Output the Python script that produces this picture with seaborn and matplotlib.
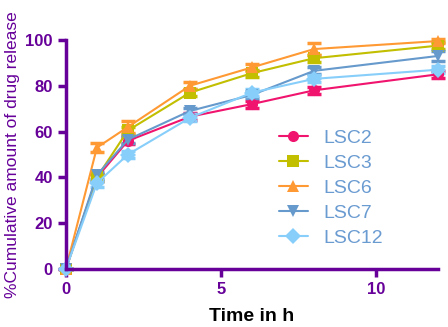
import matplotlib
matplotlib.use("Agg")
import matplotlib.pyplot as plt
import seaborn as sns
import pandas as pd
import numpy as np

time_h = [0, 1, 2, 4, 6, 8, 12]
lsc2 = [0, 40, 56, 66.5, 72, 78, 85]
lsc3 = [0, 40, 60.5, 77, 85.5, 92, 97.5]
lsc6 = [0, 53, 62, 80, 88, 96, 99.5]
lsc7 = [0, 41, 56.5, 69, 76, 86.5, 93]
lsc12 = [0, 37.5, 50, 66, 77, 83, 87]
sd2 = [0, 1.5, 1.5, 1.5, 1.5, 1.5, 1.5]
sd3 = [0, 1.5, 1.5, 1.5, 1.5, 1.5, 1.5]
sd6 = [0, 2.0, 2.5, 1.5, 1.5, 2.5, 1.0]
sd7 = [0, 1.5, 1.5, 1.5, 1.5, 1.5, 2.0]
sd12 = [0, 1.5, 1.5, 1.5, 1.5, 1.5, 1.5]

names = ["LSC2", "LSC3", "LSC6", "LSC7", "LSC12"]
series = [lsc2, lsc3, lsc6, lsc7, lsc12]
errs = [sd2, sd3, sd6, sd7, sd12]
colors = ["#F0146E", "#C2BE00", "#FF9933", "#6699CC", "#87CEFA"]
markers = ["o", "s", "^", "v", "D"]

rows = []
for n, s in zip(names, series):
    for t, v in zip(time_h, s):
        rows.append({"Time": t, "Release": v, "Formulation": n})
df = pd.DataFrame(rows)

sns.set_style("white")
plt.rcParams['font.family'] = ['Liberation Sans', 'DejaVu Sans']
purple = "#660099"

fig = plt.figure(figsize=(4.48, 3.27), dpi=100)
ax = fig.add_axes([0.147, 0.177, 0.831, 0.701])

for n, s, e, c, m in zip(names, series, errs, colors, markers):
    ax.errorbar(time_h, s, yerr=e, fmt="none", ecolor=c, elinewidth=1.5,
                capsize=5, capthick=2.5, clip_on=False, zorder=2)

sns.lineplot(data=df, x="Time", y="Release", hue="Formulation", style="Formulation",
             hue_order=names, style_order=names, palette=colors,
             markers=dict(zip(names, markers)), dashes=False,
             markersize=8, markeredgewidth=0, linewidth=1.5, ax=ax, clip_on=False)

ax.set_xlim(0, 12)
ax.set_ylim(0, 100)
ax.set_xticks([0, 5, 10])
ax.set_yticks([0, 20, 40, 60, 80, 100])
for side in ["top", "right"]:
    ax.spines[side].set_visible(False)
for side in ["left", "bottom"]:
    ax.spines[side].set_color(purple)
    ax.spines[side].set_linewidth(2.5)
ax.tick_params(axis="both", colors=purple, width=2.5, length=6, direction="out",
               labelsize=12, bottom=True, left=True)
for lab in ax.get_xticklabels() + ax.get_yticklabels():
    lab.set_fontweight("bold")
    lab.set_color(purple)

ax.set_xlabel("Time in h", fontsize=14, fontweight="bold", color="black", labelpad=8)
ax.set_ylabel("%Cumulative amount of drug release", fontsize=12.5, color=purple)

leg = ax.legend(loc="center left", bbox_to_anchor=(0.525, 0.352), frameon=False,
                fontsize=14, handlelength=1.5, labelspacing=0.38, handletextpad=0.8)
for t in leg.get_texts():
    t.set_color("#6A9BD1")

fig.savefig("out.png", dpi=100)
